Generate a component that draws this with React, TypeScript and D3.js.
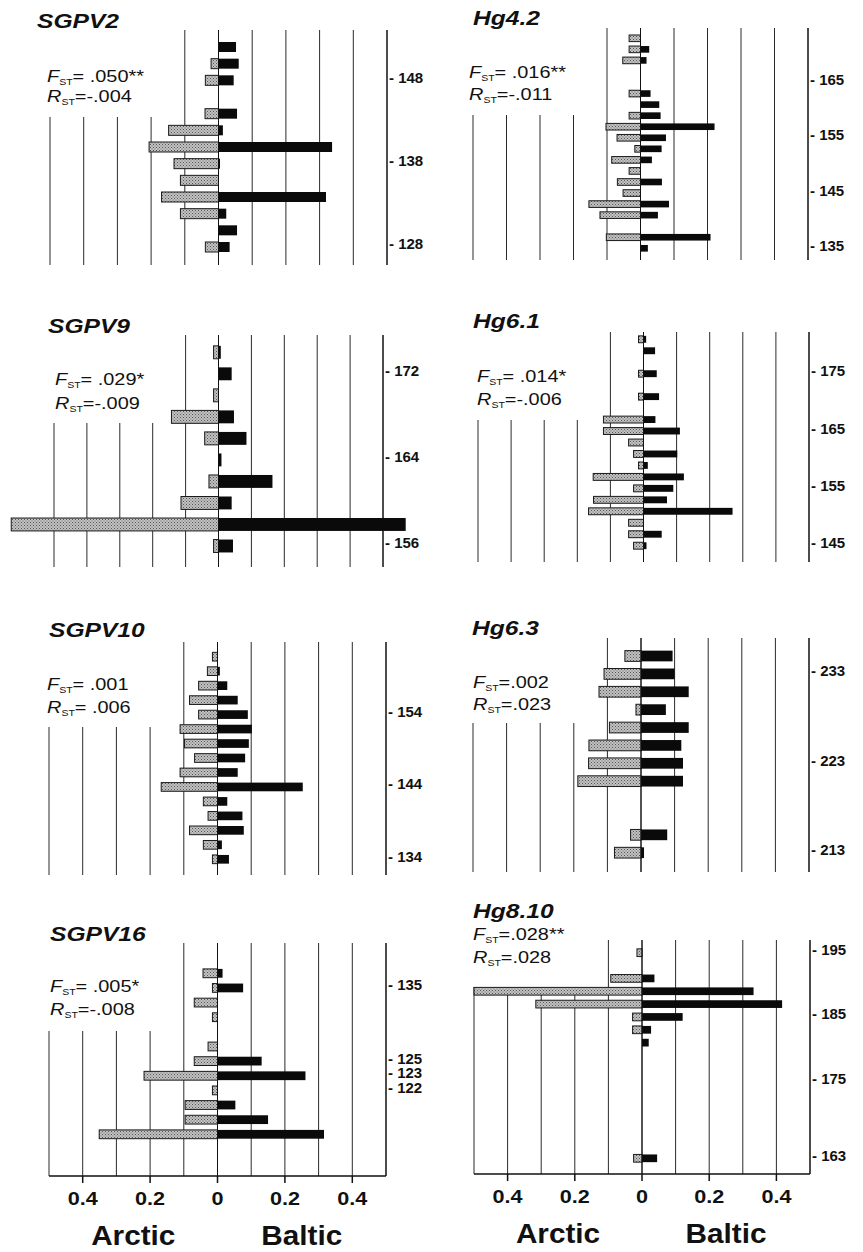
import React, { useRef, useEffect } from "react";
import * as d3 from "d3";

// allele slots (top to bottom), frequencies
const sgpv2Slots = [152, 150, 148, 146, 144, 142, 140, 138, 136, 134, 132, 130, 128];
const sgpv2Arctic = [0, 0.022, 0.039, 0, 0.04, 0.148, 0.206, 0.132, 0.113, 0.169, 0.113, 0, 0.039];
const sgpv2Baltic = [0.052, 0.06, 0.045, 0, 0.055, 0.013, 0.337, 0.004, 0, 0.319, 0.023, 0.055, 0.033];
const sgpv2Ticks = [148, 138, 128];

const hg42Slots = [173, 171, 169, 167, 165, 163, 161, 159, 157, 155, 153, 151, 149, 147, 145, 143, 141, 139, 137, 135];
const hg42Arctic = [0.034, 0.034, 0.053, 0, 0, 0.034, 0, 0.034, 0.103, 0.07, 0.017, 0.086, 0.034, 0.069, 0.052, 0.154, 0.121, 0, 0.102, 0];
const hg42Baltic = [0, 0.026, 0.018, 0, 0, 0.03, 0.056, 0.06, 0.221, 0.076, 0.063, 0.034, 0, 0.064, 0, 0.085, 0.052, 0, 0.209, 0.022];
const hg42Ticks = [165, 155, 145, 135];

const sgpv9Slots = [174, 172, 170, 168, 166, 164, 162, 160, 158, 156];
const sgpv9Arctic = [0.015, 0, 0.015, 0.143, 0.042, 0, 0.029, 0.114, 0.63, 0.015];
const sgpv9Baltic = [0.007, 0.04, 0, 0.047, 0.085, 0.009, 0.164, 0.04, 0.569, 0.044];
const sgpv9Ticks = [172, 164, 156];

const hg61Slots = [181, 179, 177, 175, 173, 171, 169, 167, 165, 163, 161, 159, 157, 155, 153, 151, 149, 147, 145];
const hg61Arctic = [0.015, 0, 0, 0.015, 0, 0.015, 0, 0.121, 0.121, 0.045, 0.03, 0.015, 0.152, 0.03, 0.151, 0.166, 0.045, 0.045, 0.03];
const hg61Baltic = [0.008, 0.035, 0, 0.04, 0, 0.047, 0, 0.036, 0.11, 0, 0.102, 0.013, 0.122, 0.09, 0.071, 0.269, 0, 0.055, 0.009];
const hg61Ticks = [175, 165, 155, 145];

const sgpv10Slots = [162, 160, 158, 156, 154, 152, 150, 148, 146, 144, 142, 140, 138, 136, 134];
const sgpv10Arctic = [0.015, 0.03, 0.056, 0.083, 0.056, 0.111, 0.098, 0.068, 0.111, 0.167, 0.042, 0.028, 0.083, 0.042, 0.015];
const sgpv10Baltic = [0, 0.007, 0.029, 0.06, 0.09, 0.102, 0.093, 0.082, 0.06, 0.253, 0.029, 0.074, 0.078, 0.013, 0.034];
const sgpv10Ticks = [154, 144, 134];

const hg63Slots = [235, 233, 231, 229, 227, 225, 223, 221, 219, 217, 215, 213];
const hg63Arctic = [0.048, 0.11, 0.125, 0.015, 0.094, 0.155, 0.156, 0.188, 0, 0, 0.031, 0.079];
const hg63Baltic = [0.094, 0.1, 0.142, 0.074, 0.142, 0.12, 0.125, 0.125, 0, 0, 0.078, 0.009];
const hg63Ticks = [233, 223, 213];

const sgpv16Slots = [137, 135, 133, 131, 129, 127, 125, 123, 122, 121, 120, 119];
const sgpv16Arctic = [0.043, 0.015, 0.069, 0.015, 0, 0.028, 0.069, 0.218, 0.015, 0.096, 0.096, 0.351];
const sgpv16Baltic = [0.015, 0.076, 0, 0, 0, 0, 0.131, 0.261, 0, 0.053, 0.15, 0.316];
const sgpv16Ticks = [135, 125, 123, 122];

const hg810Slots = [195, 193, 191, 189, 187, 185, 183, 181, 179, 177, 175, 173, 171, 169, 167, 165, 163];
const hg810Arctic = [0.015, 0, 0.093, 0.5, 0.316, 0.028, 0.028, 0, 0, 0, 0, 0, 0, 0, 0, 0, 0.025];
const hg810Baltic = [0, 0, 0.037, 0.332, 0.417, 0.121, 0.027, 0.02, 0, 0, 0, 0, 0, 0, 0, 0, 0.045];
const hg810Ticks = [195, 185, 175, 163];

const bottomTicks = [-0.4, -0.2, 0, 0.2, 0.4];

const panels = [
  { title: "SGPV2", slots: sgpv2Slots, arctic: sgpv2Arctic, baltic: sgpv2Baltic, ticks: sgpv2Ticks, fst: "= .050**", rst: "=-.004" },
  { title: "Hg4.2", slots: hg42Slots, arctic: hg42Arctic, baltic: hg42Baltic, ticks: hg42Ticks, fst: "= .016**", rst: "=-.011" },
  { title: "SGPV9", slots: sgpv9Slots, arctic: sgpv9Arctic, baltic: sgpv9Baltic, ticks: sgpv9Ticks, fst: "= .029*", rst: "=-.009" },
  { title: "Hg6.1", slots: hg61Slots, arctic: hg61Arctic, baltic: hg61Baltic, ticks: hg61Ticks, fst: "= .014*", rst: "=-.006" },
  { title: "SGPV10", slots: sgpv10Slots, arctic: sgpv10Arctic, baltic: sgpv10Baltic, ticks: sgpv10Ticks, fst: "= .001", rst: "= .006" },
  { title: "Hg6.3", slots: hg63Slots, arctic: hg63Arctic, baltic: hg63Baltic, ticks: hg63Ticks, fst: "=.002", rst: "=.023" },
  { title: "SGPV16", slots: sgpv16Slots, arctic: sgpv16Arctic, baltic: sgpv16Baltic, ticks: sgpv16Ticks, fst: "= .005*", rst: "=-.008" },
  { title: "Hg8.10", slots: hg810Slots, arctic: hg810Arctic, baltic: hg810Baltic, ticks: hg810Ticks, fst: "=.028**", rst: "=.028" },
];

// where each panel sits on the page
const layouts = [
  { x0: 50, x1: 387, top: 30, lowerTop: 117, bottom: 265, yFirst: 47, yLast: 247, titleX: 37, titleY: 28, statX: 47, statY: 82, statY2: 102, axis: false },
  { x0: 473, x1: 808, top: 28, lowerTop: 115, bottom: 260, yFirst: 38.3, yLast: 248.3, titleX: 473, titleY: 25, statX: 469, statY: 78, statY2: 100, axis: false },
  { x0: 54, x1: 383, top: 335, lowerTop: 423, bottom: 567, yFirst: 352.3, yLast: 546, titleX: 48, titleY: 333, statX: 55, statY: 385, statY2: 409, axis: false },
  { x0: 478, x1: 809, top: 332, lowerTop: 420, bottom: 562, yFirst: 339.3, yLast: 545.7, titleX: 473, titleY: 328, statX: 477, statY: 382, statY2: 405, axis: false },
  { x0: 49, x1: 386, top: 642, lowerTop: 727, bottom: 875, yFirst: 656.7, yLast: 859.3, titleX: 49, titleY: 637, statX: 47, statY: 690, statY2: 713, axis: false },
  { x0: 473, x1: 809, top: 638, lowerTop: 723, bottom: 872, yFirst: 656, yLast: 852.7, titleX: 472, titleY: 635, statX: 473, statY: 688, statY2: 710, axis: false },
  { x0: 49, x1: 386, top: 943, lowerTop: 1031, bottom: 1176, yFirst: 973.3, yLast: 1134.3, titleX: 50, titleY: 941, statX: 50, statY: 992, statY2: 1015, axis: true },
  { x0: 474, x1: 810, top: 940, lowerTop: 987, bottom: 1174, yFirst: 952.7, yLast: 1158.3, titleX: 473, titleY: 918, statX: 473, statY: 940, statY2: 963, axis: true },
];

const FONT = "'Liberation Sans', Arial, Helvetica, sans-serif";

export default function App() {
  const svgRef = useRef(null);

  useEffect(() => {
    const svg = d3.select(svgRef.current);
    svg.selectAll("*").remove();

    const defs = svg.append("defs");
    const pat = defs.append("pattern")
      .attr("id", "stipple")
      .attr("width", 3)
      .attr("height", 3)
      .attr("patternUnits", "userSpaceOnUse");
    pat.append("rect").attr("width", 3).attr("height", 3).attr("fill", "#c2c2c2");
    pat.append("rect").attr("x", 0).attr("y", 0).attr("width", 1).attr("height", 1).attr("fill", "#555");
    pat.append("rect").attr("x", 1.5).attr("y", 1.5).attr("width", 1).attr("height", 1).attr("fill", "#666");

    svg.append("rect").attr("width", 863).attr("height", 1252).attr("fill", "#fff");

    panels.forEach((p, i) => {
      const L = layouts[i];
      const g = svg.append("g");

      const x = d3.scaleLinear().domain([-0.5, 0.5]).range([L.x0, L.x1]);
      const y = d3.scalePoint().domain(p.slots.map(String)).range([L.yFirst, L.yLast]);
      const bh = y.step() * 0.6;

      // vertical grid lines; the left ones stop under the stats text
      const grid = d3.ticks(-0.5, 0.5, 10);
      g.append("g")
        .selectAll("line")
        .data(grid)
        .join("line")
        .attr("x1", d => x(d))
        .attr("x2", d => x(d))
        .attr("y1", d => d < -0.15 ? L.lowerTop : L.top)
        .attr("y2", L.bottom)
        .attr("stroke", d => d > 0.45 ? "#111" : "#2a2a2a")
        .attr("stroke-width", d => d > 0.45 ? 1.5 : 1);

      const rows = p.slots.map((s, k) => ({ slot: String(s), a: p.arctic[k], b: p.baltic[k] }));

      // Arctic (stippled, left)
      g.append("g")
        .selectAll("rect")
        .data(rows.filter(r => r.a > 0))
        .join("rect")
        .attr("x", d => x(-d.a))
        .attr("y", d => y(d.slot) - bh / 2)
        .attr("width", d => x(0) - x(-d.a))
        .attr("height", bh)
        .attr("fill", "url(#stipple)")
        .attr("stroke", "#1a1a1a")
        .attr("stroke-width", 1);

      // Baltic (black, right)
      g.append("g")
        .selectAll("rect")
        .data(rows.filter(r => r.b > 0))
        .join("rect")
        .attr("x", x(0))
        .attr("y", d => y(d.slot) - bh / 2)
        .attr("width", d => Math.max(1.5, x(d.b) - x(0)))
        .attr("height", bh)
        .attr("fill", "#0a0a0a");

      // zero line on top of bars
      g.append("line")
        .attr("x1", x(0)).attr("x2", x(0))
        .attr("y1", L.top).attr("y2", L.bottom)
        .attr("stroke", "#111").attr("stroke-width", 1);

      // allele labels on the right
      g.append("g")
        .selectAll("text")
        .data(p.ticks)
        .join("text")
        .attr("x", L.x1 + 2)
        .attr("y", d => y(String(d)) - 1.5)
        .attr("dominant-baseline", "middle")
        .attr("font-family", FONT)
        .attr("font-weight", "bold")
        .attr("font-size", 15)
        .attr("fill", "#111")
        .text(d => "- " + d);

      // title
      g.append("text")
        .attr("transform", `translate(${L.titleX},${L.titleY}) scale(1.23,1)`)
        .attr("font-family", FONT)
        .attr("font-weight", "bold")
        .attr("font-style", "italic")
        .attr("font-size", 20)
        .attr("fill", "#111")
        .text(p.title);

      // F_ST / R_ST
      [[L.statY, "F", p.fst], [L.statY2, "R", p.rst]].forEach(([yy, letter, val]) => {
        const t = g.append("text")
          .attr("transform", `translate(${L.statX},${yy}) scale(1.17,1)`)
          .attr("font-family", FONT)
          .attr("font-size", 17)
          .attr("fill", "#111");
        t.append("tspan").attr("font-style", "italic").text(letter);
        t.append("tspan").attr("font-size", 9).attr("dy", 3).text("ST");
        t.append("tspan").attr("dy", -3).text(val);
      });

      if (L.axis) {
        g.append("line")
          .attr("x1", L.x0).attr("x2", L.x1)
          .attr("y1", L.bottom).attr("y2", L.bottom)
          .attr("stroke", "#111").attr("stroke-width", 1.5);

        g.append("g")
          .selectAll("line")
          .data(bottomTicks)
          .join("line")
          .attr("x1", d => x(d)).attr("x2", d => x(d))
          .attr("y1", L.bottom).attr("y2", L.bottom + 7)
          .attr("stroke", "#111").attr("stroke-width", 1.5);

        g.append("g")
          .selectAll("text")
          .data(bottomTicks)
          .join("text")
          .attr("transform", d => `translate(${x(d)},${L.bottom + 29}) scale(1.2,1)`)
          .attr("text-anchor", "middle")
          .attr("font-family", FONT)
          .attr("font-weight", "bold")
          .attr("font-size", 18)
          .attr("fill", "#111")
          .text(d => d === 0 ? "0" : d3.format(".1f")(Math.abs(d)));

        [[-0.25, "Arctic"], [0.25, "Baltic"]].forEach(([v, label]) => {
          g.append("text")
            .attr("transform", `translate(${x(v)},${L.bottom + 69}) scale(1.1,1)`)
            .attr("text-anchor", "middle")
            .attr("font-family", FONT)
            .attr("font-weight", "bold")
            .attr("font-size", 27)
            .attr("fill", "#111")
            .text(label);
        });
      }
    });
  }, []);

  return (
    <svg
      ref={svgRef}
      width={863}
      height={1252}
      style={{ position: "absolute", left: 0, top: 0, display: "block" }}
    />
  );
}
